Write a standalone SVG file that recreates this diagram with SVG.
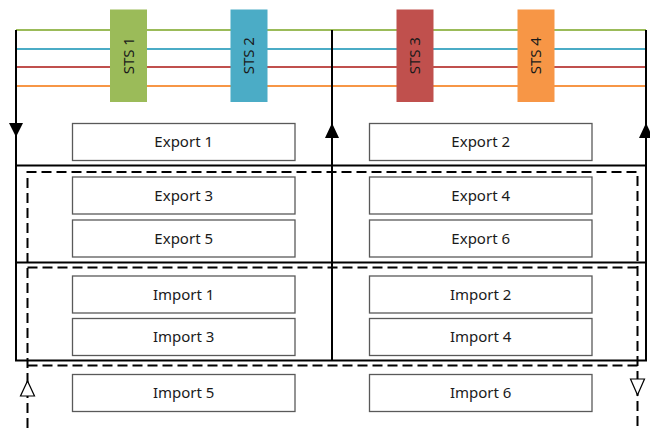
<svg xmlns="http://www.w3.org/2000/svg" width="650" height="428" viewBox="0 0 650 428">
<style>
.bg{fill:#fff}
.box{fill:#fff;stroke:#595959;stroke-width:1.3}
.lbl{font-family:"Noto Sans","Liberation Sans",sans-serif;font-size:15px;fill:#1a1a1a;text-anchor:middle}
.frame{stroke:#000;stroke-width:2;fill:none}
.dash{stroke:#000;stroke-width:2;fill:none;stroke-dasharray:10 5}
.track{stroke-width:2;fill:none}
.filled{fill:#000}
.hollow{fill:#fff;stroke:#000;stroke-width:1.2}
</style>
<rect class="bg" x="0" y="0" width="650" height="428"/>
<g id="connectors">
  <line class="track" x1="16" y1="30" x2="646" y2="30" stroke="#9BBB59"/>
  <line class="track" x1="16" y1="49" x2="646" y2="49" stroke="#4BACC6"/>
  <line class="track" x1="16" y1="67" x2="646" y2="67" stroke="#C0504D"/>
  <line class="track" x1="16" y1="86" x2="646" y2="86" stroke="#F79646"/>
  <line class="frame" x1="16" y1="30" x2="16" y2="361"/>
  <line class="frame" x1="332" y1="30" x2="332" y2="361"/>
  <line class="frame" x1="646" y1="30" x2="646" y2="361"/>
  <line class="frame" x1="15" y1="165.5" x2="647" y2="165.5"/>
  <line class="frame" x1="15" y1="262.5" x2="647" y2="262.5"/>
  <line class="frame" x1="15" y1="360.5" x2="647" y2="360.5"/>
  <path class="dash" d="M27.5,428 V172 H637.5 V428"/>
  <line class="dash" x1="27.5" y1="267.5" x2="637.5" y2="267.5"/>
  <line class="dash" x1="27.5" y1="365.5" x2="637.5" y2="365.5"/>
  <polygon class="filled" points="9,123 23,123 16,137"/>
  <polygon class="filled" points="325,138 339,138 332,123"/>
  <polygon class="filled" points="639,138 653,138 646,123"/>
  <polygon class="hollow" points="20.5,396 34.5,396 27.5,381"/>
  <polygon class="hollow" points="630.5,379 644.5,379 637.5,395"/>
</g>
<g id="sts1"><rect x="110" y="9.5" width="37" height="92.5" fill="#9BBB59"/><text class="lbl" transform="translate(128.5,55.7) rotate(-90)" dy="5.3">STS 1</text></g>
<g id="sts2"><rect x="230.5" y="9.5" width="37" height="92.5" fill="#4BACC6"/><text class="lbl" transform="translate(249,55.7) rotate(-90)" dy="5.3">STS 2</text></g>
<g id="sts3"><rect x="396.5" y="9.5" width="37" height="92.5" fill="#C0504D"/><text class="lbl" transform="translate(415,55.7) rotate(-90)" dy="5.3">STS 3</text></g>
<g id="sts4"><rect x="517.5" y="9.5" width="37" height="92.5" fill="#F79646"/><text class="lbl" transform="translate(536,55.7) rotate(-90)" dy="5.3">STS 4</text></g>
<g id="export1"><rect class="box" x="72.5" y="123.5" width="222.5" height="37"/><text class="lbl" x="183.7" y="147.3">Export 1</text></g>
<g id="export2"><rect class="box" x="369.5" y="123.5" width="222.5" height="37"/><text class="lbl" x="480.7" y="147.3">Export 2</text></g>
<g id="export3"><rect class="box" x="72.5" y="177" width="222.5" height="37"/><text class="lbl" x="183.7" y="200.8">Export 3</text></g>
<g id="export4"><rect class="box" x="369.5" y="177" width="222.5" height="37"/><text class="lbl" x="480.7" y="200.8">Export 4</text></g>
<g id="export5"><rect class="box" x="72.5" y="220" width="222.5" height="37"/><text class="lbl" x="183.7" y="243.8">Export 5</text></g>
<g id="export6"><rect class="box" x="369.5" y="220" width="222.5" height="37"/><text class="lbl" x="480.7" y="243.8">Export 6</text></g>
<g id="import1"><rect class="box" x="72.5" y="276" width="222.5" height="37"/><text class="lbl" x="183.7" y="299.8">Import 1</text></g>
<g id="import2"><rect class="box" x="369.5" y="276" width="222.5" height="37"/><text class="lbl" x="480.7" y="299.8">Import 2</text></g>
<g id="import3"><rect class="box" x="72.5" y="318.5" width="222.5" height="37"/><text class="lbl" x="183.7" y="342.3">Import 3</text></g>
<g id="import4"><rect class="box" x="369.5" y="318.5" width="222.5" height="37"/><text class="lbl" x="480.7" y="342.3">Import 4</text></g>
<g id="import5"><rect class="box" x="72.5" y="374.5" width="222.5" height="37"/><text class="lbl" x="183.7" y="398.3">Import 5</text></g>
<g id="import6"><rect class="box" x="369.5" y="374.5" width="222.5" height="37"/><text class="lbl" x="480.7" y="398.3">Import 6</text></g>
</svg>
